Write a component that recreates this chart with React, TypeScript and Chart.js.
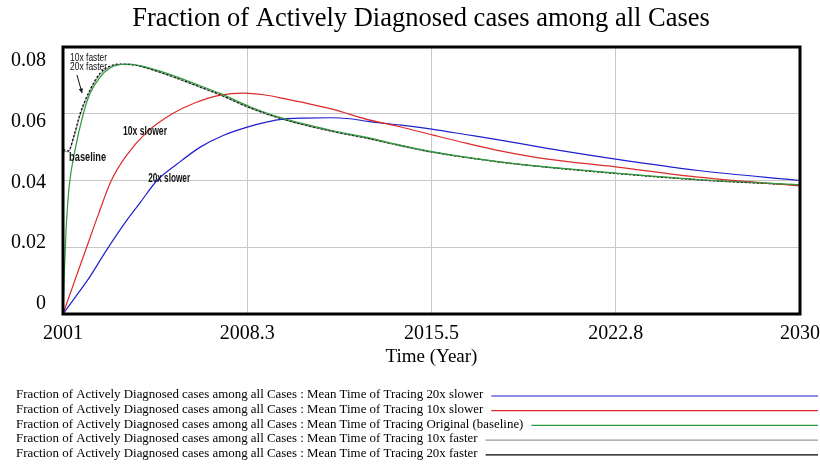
import { useEffect, useRef } from "react";
import { Chart, registerables } from "chart.js";

Chart.register(...registerables);

const chartTitle = "Fraction of Actively Diagnosed cases among all Cases";
const xAxisTitle = "Time (Year)";
const xTickValues = [2001, 2008.25, 2015.5, 2022.75, 2030];
const xTickLabels = ["2001", "2008.3", "2015.5", "2022.8", "2030"];
const yTickValues = [0, 0.02, 0.04, 0.06, 0.08];
const yTickLabels = ["0", "0.02", "0.04", "0.06", "0.08"];

const legendPrefix = "Fraction of Actively Diagnosed cases among all Cases : Mean Time of Tracing ";
const seriesNames = ["20x slower", "10x slower", "Original (baseline)", "10x faster", "20x faster"];
const seriesColors = ["#1f1fd0", "#dc2a2a", "#2e9a3a", "#9a9a9a", "#000000"];

const slower20x: number[][] = [
  [2001, 0], [2001.5, 0.0052], [2002, 0.0105], [2002.7, 0.019], [2003.5, 0.028], [2004, 0.033],
  [2004.7, 0.04], [2005.5, 0.045], [2006.4, 0.05], [2007.3, 0.0535], [2008.25, 0.056], [2009, 0.0575],
  [2009.66, 0.0584], [2010.5, 0.0587], [2011.5, 0.0588], [2012.3, 0.0585], [2013, 0.0577],
  [2014.3, 0.0566], [2015.5, 0.0554], [2016.9, 0.0537], [2018.2, 0.0521], [2020, 0.0497],
  [2022.75, 0.0464], [2026, 0.043], [2030, 0.04],
];
const slower10x: number[][] = [
  [2001, 0], [2001.5, 0.0108], [2001.93, 0.02], [2002.4, 0.03], [2002.9, 0.04], [2003.5, 0.0475],
  [2004.3, 0.0545], [2005.3, 0.06], [2006.2, 0.0633], [2007.2, 0.0656], [2008.1, 0.0662],
  [2008.9, 0.0657], [2009.66, 0.0646], [2011.63, 0.0613], [2012.96, 0.0583], [2014.26, 0.0561],
  [2015.56, 0.0536], [2016.9, 0.0511], [2018.2, 0.0489], [2020, 0.0465], [2022.75, 0.0441],
  [2026, 0.041], [2030, 0.0384],
];
const baseline: number[][] = [
  [2001, 0], [2001.05, 0.012], [2001.12, 0.025], [2001.24, 0.038], [2001.47, 0.049], [2001.8, 0.06],
  [2002.06, 0.066], [2002.46, 0.071], [2002.85, 0.0737], [2003.2, 0.0747], [2003.6, 0.0749],
  [2004.2, 0.0741], [2005.08, 0.0721], [2006.4, 0.0684], [2007.18, 0.0661], [2008.36, 0.0621],
  [2009.66, 0.0586], [2011.63, 0.0549], [2012.96, 0.0529], [2014.26, 0.0506], [2015.56, 0.0486],
  [2018.2, 0.0456], [2020, 0.0441], [2022.75, 0.0422], [2026, 0.0403], [2030, 0.0387],
];
const faster10x: number[][] = [
  [2001, 0], [2001.02, 0.0488], [2001.2, 0.0486], [2001.45, 0.0535], [2001.67, 0.0595],
  [2002.06, 0.0668], [2002.46, 0.0718], [2002.85, 0.0741], [2003.3, 0.0748], [2003.8, 0.0746],
  [2004.2, 0.0739], [2005.08, 0.0717], [2006.4, 0.0679], [2007.18, 0.0656], [2008.36, 0.0617],
  [2009.66, 0.0583], [2011.63, 0.0546], [2012.96, 0.0526], [2014.26, 0.0504], [2015.56, 0.0484],
  [2018.2, 0.0455], [2020, 0.044], [2022.75, 0.0421], [2026, 0.0402], [2030, 0.0386],
];
const faster20x: number[][] = [
  [2001, 0], [2001.02, 0.0492], [2001.21, 0.0489], [2001.45, 0.054], [2001.67, 0.06],
  [2002.06, 0.0671], [2002.46, 0.0722], [2002.85, 0.0743], [2003.3, 0.0749], [2003.8, 0.0746],
  [2004.2, 0.0739], [2005.08, 0.0718], [2006.4, 0.068], [2007.18, 0.0657], [2008.36, 0.0618],
  [2009.66, 0.0584], [2011.63, 0.0547], [2012.96, 0.0527], [2014.26, 0.0505], [2015.56, 0.0485],
  [2018.2, 0.0455], [2020, 0.044], [2022.75, 0.0421], [2026, 0.0402], [2030, 0.0386],
];
const seriesData = [slower20x, slower10x, baseline, faster10x, faster20x];

// in-plot annotations: [text, x value, y value, bold]
const annotations: [string, number, number, boolean][] = [
  ["10x faster", 2001.28, 0.0767, false],
  ["20x faster", 2001.28, 0.0741, false],
  ["10x slower", 2003.36, 0.0545, true],
  ["baseline", 2001.24, 0.0467, true],
  ["20x slower", 2004.35, 0.0405, true],
];
const annotationWidths = [37, 37, 44, 37, 42];

const SERIF = '"Liberation Serif", "Times New Roman", serif';
const SANS = '"Liberation Sans", Arial, sans-serif';

const overlay = {
  id: "overlay",
  afterDatasetsDraw(chart: any) {
    const { ctx, chartArea: a, scales } = chart;
    const xs = scales.x;
    const ys = scales.y;
    ctx.save();
    ctx.fillStyle = "#111";
    ctx.textAlign = "left";
    ctx.textBaseline = "middle";
    annotations.forEach(([text, xv, yv, bold], i) => {
      ctx.font = bold ? `bold 12px ${SANS}` : `11px ${SANS}`;
      const w = ctx.measureText(text).width;
      const k = annotationWidths[i] / w;
      ctx.save();
      ctx.translate(xs.getPixelForValue(xv), ys.getPixelForValue(yv));
      ctx.scale(k, 1);
      ctx.fillText(text, 0, 0);
      ctx.restore();
    });
    const ax1 = xs.getPixelForValue(2001.55), ay1 = ys.getPixelForValue(0.0716);
    const ax2 = xs.getPixelForValue(2001.75), ay2 = ys.getPixelForValue(0.0662);
    ctx.strokeStyle = "#111";
    ctx.lineWidth = 1;
    ctx.beginPath();
    ctx.moveTo(ax1, ay1);
    ctx.lineTo(ax2, ay2);
    ctx.stroke();
    const ang = Math.atan2(ay2 - ay1, ax2 - ax1);
    ctx.beginPath();
    ctx.moveTo(ax2, ay2);
    ctx.lineTo(ax2 - 5 * Math.cos(ang - 0.45), ay2 - 5 * Math.sin(ang - 0.45));
    ctx.lineTo(ax2 - 5 * Math.cos(ang + 0.45), ay2 - 5 * Math.sin(ang + 0.45));
    ctx.closePath();
    ctx.fillStyle = "#111";
    ctx.fill();
    ctx.strokeStyle = "#000";
    ctx.lineWidth = 3;
    ctx.strokeRect(a.left, a.top, a.right - a.left, a.bottom - a.top);
    ctx.restore();
  },
  afterDraw(chart: any) {
    const { ctx } = chart;
    ctx.save();
    ctx.fillStyle = "#000";
    ctx.font = `26.5px ${SERIF}`;
    ctx.textAlign = "center";
    ctx.textBaseline = "middle";
    ctx.fillText(chartTitle, 421, 19);
    ctx.font = `12.9px ${SERIF}`;
    ctx.textAlign = "left";
    const rowY = [395, 409.7, 424.4, 439.1, 453.8];
    chart.data.datasets.forEach((ds: any, i: number) => {
      const y = rowY[i];
      ctx.fillStyle = "#000";
      ctx.fillText(ds.label, 16, y);
      const w = ctx.measureText(ds.label).width;
      ctx.strokeStyle = ds.borderColor;
      ctx.lineWidth = 1.2;
      ctx.beginPath();
      ctx.moveTo(16 + w + 8, y + 1);
      ctx.lineTo(818, y + 1);
      ctx.stroke();
    });
    ctx.restore();
  },
};

export default function App() {
  const ref = useRef<HTMLCanvasElement>(null);
  useEffect(() => {
    document.body.style.margin = "0";
    const datasets = seriesData.map((pts, i) => ({
      label: legendPrefix + seriesNames[i],
      data: pts.map(([x, y]) => ({ x, y })),
      yAxisID: "y",
      xAxisID: "x",
      borderColor: seriesColors[i],
      backgroundColor: seriesColors[i],
      borderWidth: 1.2,
      pointRadius: 0,
      cubicInterpolationMode: "monotone" as const,
      borderDash: i === 4 ? [2, 2] : [],
      order: [3, 2, 1, 5, 4][i],
    }));
    const chart = new Chart(ref.current!, {
      type: "line",
      data: { datasets },
      plugins: [overlay],
      options: {
        animation: false,
        responsive: false,
        layout: { padding: { top: 47, right: 20, bottom: 94, left: 0 } },
        plugins: { legend: { display: false }, title: { display: false }, tooltip: { enabled: false } },
        scales: {
          x: {
            type: "linear",
            min: 2001,
            max: 2030,
            afterBuildTicks: (s: any) => {
              s.ticks = xTickValues.map((v) => ({ value: v }));
            },
            afterFit: (s: any) => {
              s.height = 60;
              s.paddingLeft = 0;
              s.paddingRight = 0;
            },
            ticks: {
              autoSkip: false,
              maxRotation: 0,
              padding: 8,
              color: "#000",
              font: { family: SERIF, size: 20 },
              callback: (_v: any, i: number) => xTickLabels[i],
            },
            grid: { color: "#c8c8c8", lineWidth: 1, drawTicks: false },
            border: { display: false },
            title: {
              display: true,
              text: xAxisTitle,
              color: "#000",
              font: { family: SERIF, size: 19 },
              padding: { top: 0, bottom: 6 },
            },
          },
          yl: {
            type: "linear",
            position: "left",
            min: -0.0034,
            max: 0.08462,
            afterBuildTicks: (s: any) => {
              s.ticks = yTickValues.map((v) => ({ value: v }));
            },
            afterFit: (s: any) => {
              s.width = 63;
              s.paddingTop = 0;
              s.paddingBottom = 0;
            },
            ticks: {
              padding: 9,
              color: "#000",
              font: { family: SERIF, size: 20 },
              callback: (_v: any, i: number) => yTickLabels[i],
            },
            grid: { display: false },
            border: { display: false },
          },
          y: {
            type: "linear",
            position: "left",
            min: 0,
            max: 0.08,
            afterBuildTicks: (s: any) => {
              s.ticks = yTickValues.map((v) => ({ value: v }));
            },
            afterFit: (s: any) => {
              s.width = 0;
              s.paddingTop = 0;
              s.paddingBottom = 0;
            },
            ticks: { display: false },
            grid: { color: "#c8c8c8", lineWidth: 1, drawTicks: false },
            border: { display: false },
          },
        },
      },
    });
    return () => chart.destroy();
  }, []);
  return (
    <div style={{ width: 820, height: 468 }}>
      <canvas ref={ref} width={820} height={468} style={{ display: "block" }} />
    </div>
  );
}
